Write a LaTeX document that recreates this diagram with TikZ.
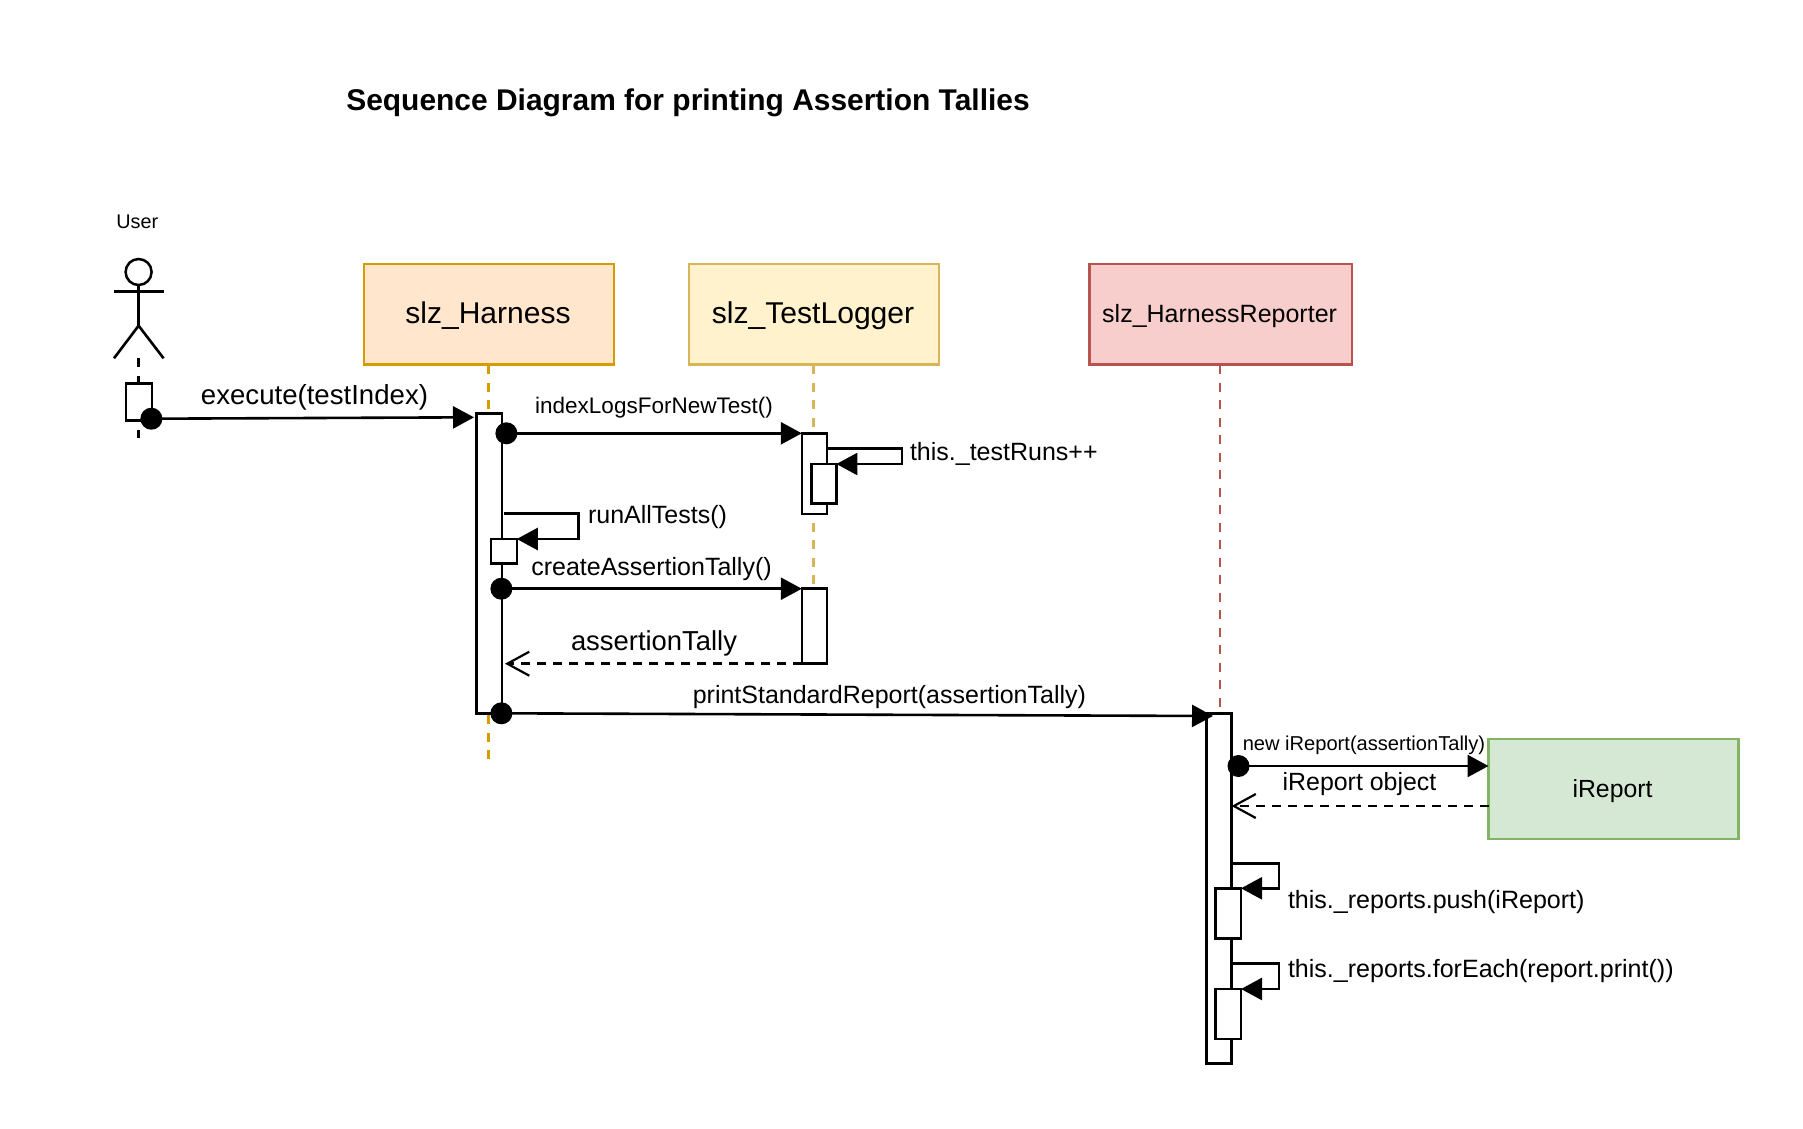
\documentclass[tikz,border=0pt]{standalone}
\usepackage{fontspec}
\setmainfont{Liberation Sans}
\usetikzlibrary{arrows.meta}
\newcommand{\pxbox}[6]{\node[#6,minimum width={#4pt-#2pt},minimum height={#5pt-#3pt}] (#1) at ({(#2+#4)/2},{(#3+#5)/2}) {};}
\newcommand{\fs}[1]{\fontsize{#1pt}{#1pt}\selectfont}
\tikzset{
  x=1pt,y=-1pt,
  every node/.style={outer sep=0pt,inner sep=0pt},
  line/.style={line width=2.6pt,black,line join=miter},
  actbar/.style={draw=black,fill=white,line width=2.6pt},
  head box/.style={draw=#1,line width=2.5pt},
  lifedash/.style={line width=2.7pt,dash pattern=on 9pt off 8.5pt},
  msg/.style={line,-{Triangle[length=21pt,width=22pt]}},
  reply/.style={line,line width=2.6pt,dash pattern=on 9pt off 7pt,-{Straight Barb[length=22pt,width=24pt,line width=2.2pt]}},
  startdot/.style={circle,fill=black,minimum size=22pt},
  label/.style={black,align=center}
}
\definecolor{hfill}{HTML}{FFE6CC}\definecolor{hline}{HTML}{D79B00}
\definecolor{lfill}{HTML}{FFF2CC}\definecolor{lline}{HTML}{D6B656}
\definecolor{rfill}{HTML}{F8CECC}\definecolor{rline}{HTML}{B85450}
\definecolor{ifill}{HTML}{D5E8D4}\definecolor{iline}{HTML}{82B366}
\begin{document}
\begin{tikzpicture}
\useasboundingbox (0,0) rectangle (1803,1128);
\fill[white] (0,0) rectangle (1803,1128);
% title
\node[label,font=\bfseries\fs{29.95}] (title) at (688,102.5) {Sequence Diagram for printing Assertion Tallies};
% actor
\node[label,font=\fs{19.8}] (userlbl) at (137.3,221.5) {User};
\node[circle,draw=black,line width=2.5pt,minimum size=26pt] (ahead) at (138.6,272) {};
\coordinate (ahip) at (138.6,325.7);
\coordinate (aarmL) at (114,291.7);
\coordinate (aarmR) at (163.6,291.7);
\coordinate (alegL) at (114,358.3);
\coordinate (alegR) at (163.6,358.3);
\coordinate (alifeEnd) at (138.6,438.3);
\draw[line] (ahead.south) -- (ahip);
\draw[line] (aarmL) -- (aarmR);
\draw[line] (alegL) -- (ahip) -- (alegR);
\draw[line,dash pattern=on 9pt off 9pt] (ahip |- alegL) -- (alifeEnd);
% head boxes
\pxbox{harness}{364}{264}{614}{364.5}{head box=hline,fill=hfill}
\pxbox{logger}{689}{264}{939}{364.5}{head box=lline,fill=lfill}
\pxbox{reporter}{1089.6}{264}{1352}{364.5}{head box=rline,fill=rfill}
\node[label,font=\fs{30}] (harnesslbl) at (488,315.5) {slz\_Harness};
\node[label,font=\fs{30.1}] (loggerlbl) at (813,315.5) {slz\_TestLogger};
\node[label,font=\fs{25}] (reporterlbl) at (1219.6,316.5) {slz\_HarnessReporter};
% activations
\coordinate (hlifeEnd) at (488.6,762);
\coordinate (llifeEnd) at (813.6,588.7);
\coordinate (rlifeEnd) at (1220,713.3);
\draw[lifedash,hline] (488.6,365) -- (hlifeEnd);
\draw[lifedash,lline] (813.6,365) -- (llifeEnd);
\draw[lifedash,rline] (1220,365) -- (rlifeEnd);
\pxbox{uact}{126}{383.3}{152}{420.7}{actbar}
\pxbox{hact}{476.4}{413.3}{501.8}{713.3}{actbar}
\pxbox{hself}{491}{539}{516.8}{563.3}{actbar}
\pxbox{lact}{801.8}{433.3}{826.8}{514}{actbar}
\pxbox{lself}{811.4}{464}{836.4}{503.3}{actbar}
\pxbox{lact2}{801.8}{588.7}{826.8}{663.7}{actbar}
\pxbox{ract}{1206.3}{713.3}{1231.7}{1063.3}{actbar}
\pxbox{rself}{1215.7}{888.3}{1241}{938.3}{actbar}
\pxbox{rself2}{1215.7}{989}{1241}{1039}{actbar}
\pxbox{ireport}{1488.5}{739}{1738.7}{839}{head box=iline,fill=ifill}
\node[label,font=\fs{24.8}] (ireportlbl) at (1612.5,791.3) {iReport};
% dots
\node[startdot] (d1) at (151.4,418.7) {};
\node[startdot] (d2) at (506.4,433.3) {};
\node[startdot] (d3) at (501.4,588.7) {};
\node[startdot] (d4) at (501.4,713.3) {};
\node[startdot] (d5) at (1238.5,766) {};
% messages
\coordinate (execEnd) at (474,417.3);
\coordinate (printEnd) at (1213,716);
\draw[msg] (d1.center) -- (execEnd);
\draw[msg] (d2.center) -- (lact.north west);
\draw[msg] (d3.center) -- (lact2.north west);
\draw[msg] (d4.center) -- (printEnd);
\draw[msg] (d5.center) -- (d5.center -| ireport.west);
% replies
\coordinate (r1) at (505,663.7);
\coordinate (r2) at (1231.5,806);
\draw[reply] (lact2.south west) -- (r1);
\draw[reply] (ireport.west |- r2) -- (r2);
% self calls
\coordinate (s1a) at (826.8,448.7);
\coordinate (s1b) at (901.8,448.7);
\coordinate (s1c) at (901.8,464);
\coordinate (s2a) at (503.6,513.3);
\coordinate (s2b) at (578.6,513.3);
\coordinate (s2c) at (578.6,539);
\coordinate (s3a) at (1231.7,863.3);
\coordinate (s3b) at (1278.9,863.3);
\coordinate (s3c) at (1278.9,888.3);
\coordinate (s4a) at (1231.7,963.3);
\coordinate (s4b) at (1278.9,963.3);
\coordinate (s4c) at (1278.9,989);
\draw[msg] (s1a) -- (s1b) -- (s1c) -- (lself.north east);
\draw[msg] (s2a) -- (s2b) -- (s2c) -- (hself.north east);
\draw[msg] (s3a) -- (s3b) -- (s3c) -- (rself.north east);
\draw[msg] (s4a) -- (s4b) -- (s4c) -- (rself2.north east);
% labels
\node[label,font=\fs{27.6}] (l1) at (314.5,397.5) {execute(testIndex)};
\node[label,font=\fs{22.5}] (l2) at (654,408) {indexLogsForNewTest()};
\node[label,font=\fs{25},anchor=west] (l3) at (910,454) {this.\_testRuns++};
\node[label,font=\fs{25}] (l4) at (657.5,517) {runAllTests()};
\node[label,font=\fs{25}] (l5) at (651.5,569) {createAssertionTally()};
\node[label,font=\fs{27.4}] (l6) at (654,643.5) {assertionTally};
\node[label,font=\fs{25}] (l7) at (889.4,697) {printStandardReport(assertionTally)};
\node[label,font=\fs{20.1}] (l8) at (1364,744.8) {new iReport(assertionTally)};
\node[label,font=\fs{24.9}] (l9) at (1359.5,783.8) {iReport object};
\node[label,font=\fs{25.05},anchor=west] (l10) at (1288,902) {this.\_reports.push(iReport)};
\node[label,font=\fs{25.05},anchor=west] (l11) at (1288,971.5) {this.\_reports.forEach(report.print())};
\end{tikzpicture}
\end{document}
